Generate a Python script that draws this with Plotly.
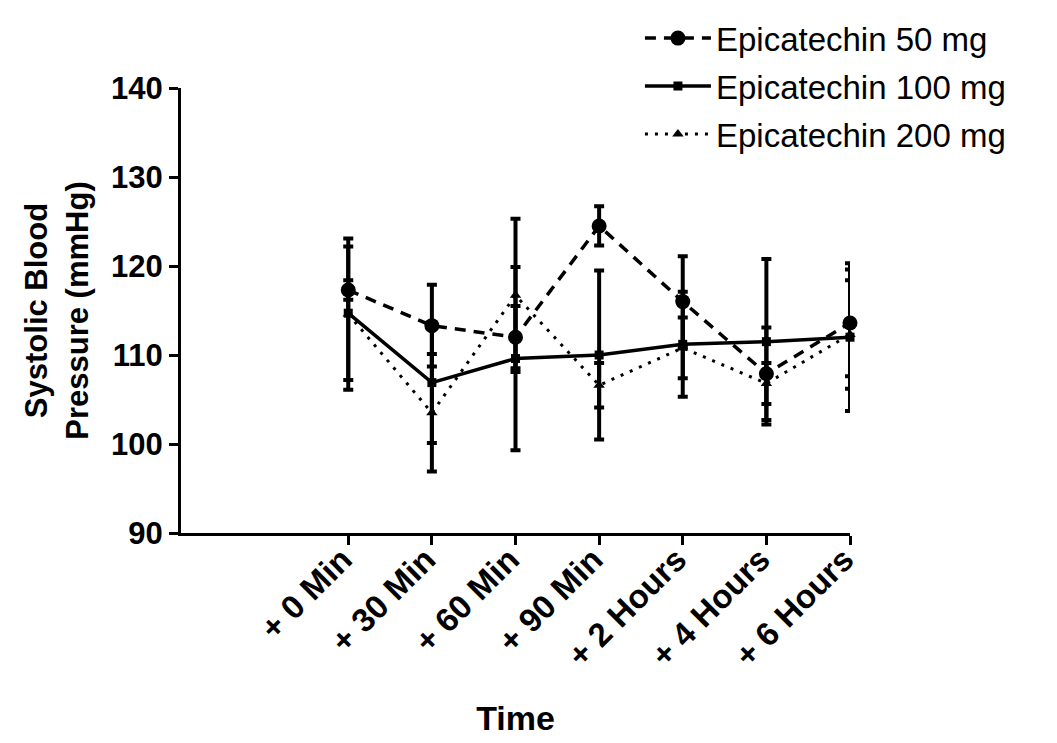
import plotly.graph_objects as go

time_labels = ["+ 0 Min", "+ 30 Min", "+ 60 Min", "+ 90 Min", "+ 2 Hours", "+ 4 Hours", "+ 6 Hours"]

epi50 = [117.3, 113.3, 112.0, 124.5, 116.0, 107.9, 113.6]
epi50_err = [1.1, 4.6, 3.5, 2.2, 5.1, 5.2, 6.0]

epi100 = [114.7, 106.9, 109.6, 110.0, 111.2, 111.5, 112.0]
epi100_err = [7.5, 6.8, 10.3, 9.5, 5.9, 9.3, 8.3]

epi200 = [114.6, 103.5, 116.7, 106.6, 110.8, 106.8, 112.3]
epi200_err = [8.5, 6.6, 8.6, 2.5, 3.4, 2.3, 6.1]

y_ticks = [90, 100, 110, 120, 130, 140]

FONT = "Liberation Sans, Arial, sans-serif"

def err(vals):
    return dict(type="data", array=vals, visible=True, color="black", thickness=4, width=5)

fig = go.Figure()
fig.add_trace(go.Scatter(
    x=time_labels, y=epi200, name="Epicatechin 200 mg", mode="lines+markers",
    line=dict(color="black", width=3, dash="3px,7px"),
    marker=dict(symbol="triangle-up", size=10, color="black"),
    error_y=err(epi200_err), cliponaxis=False, legendrank=3, legendgroup="c"))
fig.add_trace(go.Scatter(
    x=time_labels, y=epi100, name="Epicatechin 100 mg", mode="lines+markers",
    line=dict(color="black", width=3.5),
    marker=dict(symbol="square", size=9, color="black"),
    error_y=err(epi100_err), cliponaxis=False, legendrank=2, legendgroup="b"))
fig.add_trace(go.Scatter(
    x=time_labels, y=epi50, name="Epicatechin 50 mg", mode="lines+markers",
    line=dict(color="black", width=3.5, dash="11px,8px"),
    marker=dict(symbol="circle", size=15, color="black"),
    error_y=err(epi50_err), cliponaxis=False, legendrank=1, legendgroup="a"))

fig.update_layout(
    width=1057, height=743, autosize=False,
    margin=dict(l=173, r=215, t=80, b=218, autoexpand=False),
    paper_bgcolor="white", plot_bgcolor="white",
    font=dict(family=FONT, color="black"),
    showlegend=True,
    legend=dict(x=0.686, y=1.175, xanchor="left", yanchor="top",
                font=dict(size=33, family=FONT, color="black"),
                bgcolor="rgba(0,0,0,0)", itemwidth=66,
                traceorder="grouped", tracegroupgap=2),
    xaxis=dict(
        type="category", range=[-2, 6.0], automargin=False,
        showline=True, linecolor="black", linewidth=3,
        ticks="outside", ticklen=9, tickwidth=3, tickcolor="black",
        tickangle=-45, tickfont=dict(size=33, family=FONT, color="black", weight="bold"),
        ticklabelshift=-6, ticklabelstandoff=-18,
        showgrid=False, zeroline=False,
        title=dict(text="Time", font=dict(size=34, family=FONT, color="black", weight="bold"), standoff=34),
    ),
    yaxis=dict(
        range=[90, 140], tickvals=y_ticks, automargin=False,
        showline=True, linecolor="black", linewidth=3,
        ticks="outside", ticklen=9, tickwidth=3, tickcolor="black",
        tickfont=dict(size=31, family=FONT, color="black", weight="bold"),
        showgrid=False, zeroline=False,
        title=dict(text="Systolic Blood<br>Pressure (mmHg)",
                   font=dict(size=31, family=FONT, color="black", weight="bold"), standoff=14),
    ),
)

fig.write_html("out.html")
